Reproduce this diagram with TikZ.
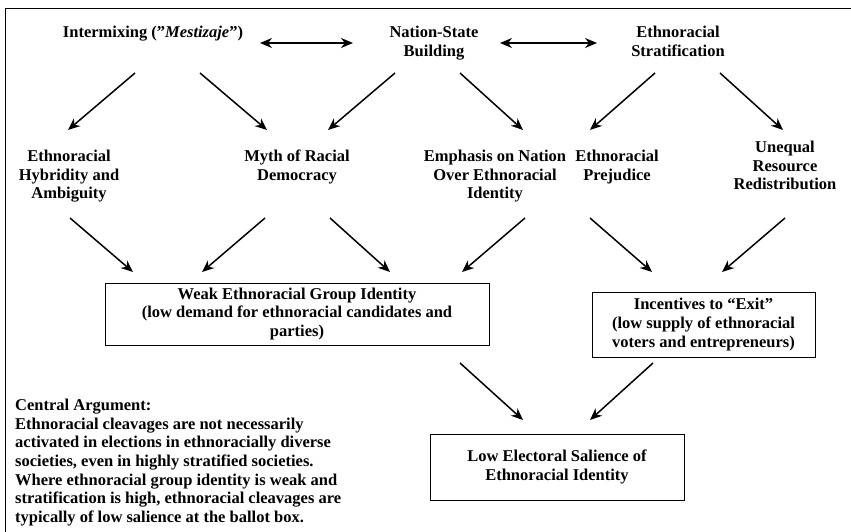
\documentclass[tikz,border=0pt]{standalone}
\usepackage{fontspec}
\setmainfont{Liberation Serif}
\usetikzlibrary{arrows.meta}

\begin{document}
\begin{tikzpicture}[x=1pt,y=-1pt,
    lbl/.style={font=\bfseries\fontsize{16.5}{18.6}\selectfont, align=center, inner sep=0pt, anchor=north},
    box/.style={draw, line width=0.9pt, font=\bfseries\fontsize{16.5}{18.6}\selectfont, align=center, inner sep=0pt},
    arr/.style={-{Stealth[length=12pt,width=10pt]}, line width=1.5pt},
    darr/.style={{Stealth[length=12pt,width=10pt]}-{Stealth[length=12pt,width=10pt]}, line width=1.5pt}]
    \useasboundingbox (0,0) rectangle (851,532);
    % frame (only top and left edge show)
    \draw [line width=0.9pt] (5,532) -- (5,8) -- (851,8);
    % top row
        \node [lbl] (mix) at (153,26) {Intermixing (''\textit{Mestizaje}'')};
        \node [lbl] (nsb) at (434,26) {Nation-State\\Building};
        \node [lbl] (strat) at (678,26) {Ethnoracial\\Stratification};
    % second row
        \node [lbl] (hyb) at (69,150) {Ethnoracial\\Hybridity and\\Ambiguity};
        \node [lbl] (myth) at (297,150) {Myth of Racial\\Democracy};
        \node [lbl] (emph) at (495,150) {Emphasis on Nation\\Over Ethnoracial\\Identity};
        \node [lbl] (prej) at (617,150) {Ethnoracial\\Prejudice};
        \node [lbl] (uneq) at (785,141) {Unequal\\Resource\\Redistribution};
    % boxes
        \node [box, minimum width=384pt, minimum height=62pt] (weak) at (297,314)
            {Weak Ethnoracial Group Identity\\(low demand for ethnoracial candidates and\\parties)};
        \node [box, minimum width=223pt, minimum height=65pt] (exit) at (703.5,324.5)
            {Incentives to ``Exit''\\(low supply of ethnoracial\\voters and entrepreneurs)};
        \node [box, minimum width=254pt, minimum height=66pt] (low) at (557,467)
            {Low Electoral Salience of\\Ethnoracial Identity};
    % central argument
        \node [lbl, anchor=north west, align=left] (arg) at (15,399)
            {Central Argument:\\Ethnoracial cleavages are not necessarily\\activated in elections in ethnoracially diverse\\societies, even in highly stratified societies.\\Where ethnoracial group identity is weak and\\stratification is high, ethnoracial cleavages are\\typically of low salience at the ballot box.};
    % arrow ends
        \coordinate (mix-a) at (260,43);  \coordinate (nsb-a) at (353,43);
        \coordinate (nsb-b) at (500,43);  \coordinate (strat-a) at (597,43);
        \coordinate (mix-l) at (135,73);  \coordinate (hyb-t) at (68,130);
        \coordinate (mix-r) at (200,73);  \coordinate (myth-tl) at (267,130);
        \coordinate (nsb-l) at (395,73);  \coordinate (myth-tr) at (328,130);
        \coordinate (nsb-r) at (460,73);  \coordinate (emph-t) at (523,130);
        \coordinate (strat-l) at (655,73); \coordinate (prej-t) at (590,130);
        \coordinate (strat-r) at (720,73); \coordinate (uneq-t) at (783,130);
        \coordinate (hyb-b) at (70,218);   \coordinate (weak-tl) at (133,272);
        \coordinate (myth-bl) at (265,218); \coordinate (weak-tm) at (202,272);
        \coordinate (myth-br) at (330,218); \coordinate (weak-tr) at (390,272);
        \coordinate (emph-b) at (525,218);  \coordinate (weak-tx) at (462,272);
        \coordinate (prej-b) at (590,218);  \coordinate (exit-tl) at (652,272);
        \coordinate (uneq-b) at (785,218);  \coordinate (exit-tr) at (722,272);
        \coordinate (weak-b) at (460,363);  \coordinate (low-tl) at (523,420);
        \coordinate (exit-b) at (653,363);  \coordinate (low-tr) at (590,420);
    % arrows
        \draw [darr] (mix-a) -- (nsb-a);
        \draw [darr] (nsb-b) -- (strat-a);
        \draw [arr] (mix-l) -- (hyb-t);
        \draw [arr] (mix-r) -- (myth-tl);
        \draw [arr] (nsb-l) -- (myth-tr);
        \draw [arr] (nsb-r) -- (emph-t);
        \draw [arr] (strat-l) -- (prej-t);
        \draw [arr] (strat-r) -- (uneq-t);
        \draw [arr] (hyb-b) -- (weak-tl);
        \draw [arr] (myth-bl) -- (weak-tm);
        \draw [arr] (myth-br) -- (weak-tr);
        \draw [arr] (emph-b) -- (weak-tx);
        \draw [arr] (prej-b) -- (exit-tl);
        \draw [arr] (uneq-b) -- (exit-tr);
        \draw [arr] (weak-b) -- (low-tl);
        \draw [arr] (exit-b) -- (low-tr);
\end{tikzpicture}
\end{document}
